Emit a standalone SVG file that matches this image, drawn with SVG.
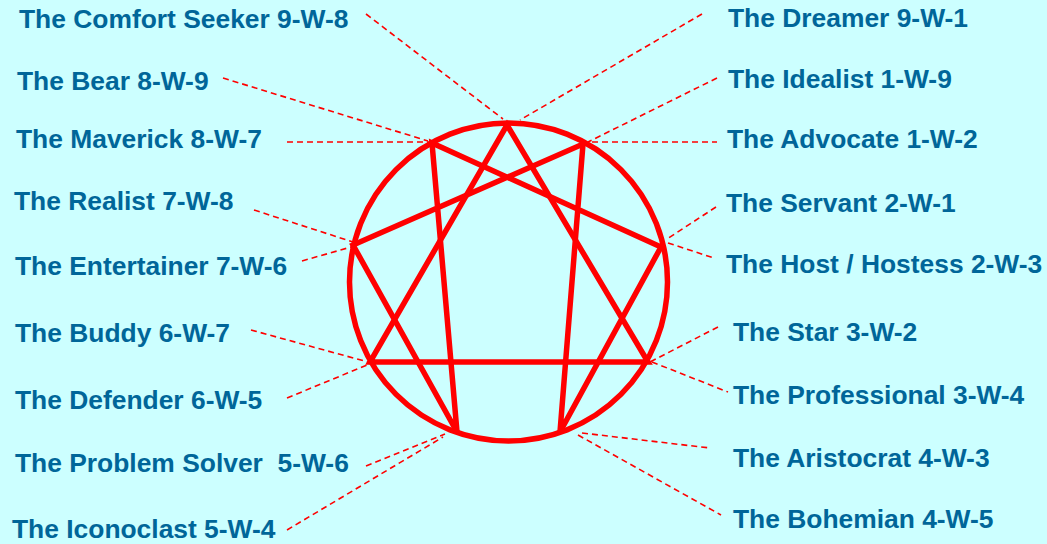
<svg xmlns="http://www.w3.org/2000/svg" width="1047" height="544" viewBox="0 0 1047 544">
<style>
.lbl{font-family:"Liberation Sans",Arial,sans-serif;font-weight:bold;font-size:26.4px;fill:#006699;white-space:pre}
.dash{stroke:#FF0000;stroke-width:1.6;stroke-dasharray:6 4;fill:none}
.fig{stroke:#FF0000;stroke-width:5.5;fill:none;stroke-linejoin:miter;stroke-linecap:butt}
</style>
<rect x="0" y="0" width="1047" height="544" fill="#CCFFFF"/>
<g id="connectors">
<line class="dash" x1="366" y1="14" x2="503" y2="119"/>
<line class="dash" x1="702" y1="14" x2="520" y2="120"/>
<line class="dash" x1="223" y1="78" x2="428" y2="141"/>
<line class="dash" x1="717" y1="78" x2="588" y2="142"/>
<line class="dash" x1="287" y1="142" x2="430" y2="142"/>
<line class="dash" x1="592" y1="142" x2="717" y2="142"/>
<line class="dash" x1="254" y1="210" x2="353" y2="242"/>
<line class="dash" x1="302" y1="261" x2="358" y2="245"/>
<line class="dash" x1="716" y1="207" x2="667" y2="239"/>
<line class="dash" x1="668" y1="243" x2="714" y2="258"/>
<line class="dash" x1="251" y1="330" x2="368" y2="362"/>
<line class="dash" x1="287" y1="398" x2="367" y2="365"/>
<line class="dash" x1="718" y1="327" x2="650" y2="362"/>
<line class="dash" x1="652" y1="362" x2="728" y2="392"/>
<line class="dash" x1="366" y1="466" x2="445" y2="434"/>
<line class="dash" x1="287" y1="530" x2="443" y2="437"/>
<line class="dash" x1="582" y1="433" x2="710" y2="448"/>
<line class="dash" x1="578" y1="435" x2="721" y2="515"/>
</g>
<g id="enneagram">
<circle class="fig" cx="508.5" cy="282" r="159"/>
<polygon class="fig" points="507,125 648,362 370,362"/>
<polygon class="fig" points="583,144 560,432 661,247 432,143 457,432 353,245"/>
</g>
<g id="label-comfort-seeker"><text class="lbl" x="19" y="28">The Comfort Seeker 9-W-8</text></g>
<g id="label-bear"><text class="lbl" x="17" y="90">The Bear 8-W-9</text></g>
<g id="label-maverick"><text class="lbl" x="16" y="148">The Maverick 8-W-7</text></g>
<g id="label-realist"><text class="lbl" x="14" y="210">The Realist 7-W-8</text></g>
<g id="label-entertainer"><text class="lbl" x="15" y="275">The Entertainer 7-W-6</text></g>
<g id="label-buddy"><text class="lbl" x="15" y="342">The Buddy 6-W-7</text></g>
<g id="label-defender"><text class="lbl" x="15" y="409">The Defender 6-W-5</text></g>
<g id="label-problem-solver"><text class="lbl" x="15" y="472" xml:space="preserve">The Problem Solver  5-W-6</text></g>
<g id="label-iconoclast"><text class="lbl" x="12" y="538">The Iconoclast 5-W-4</text></g>
<g id="label-dreamer"><text class="lbl" x="728" y="27">The Dreamer 9-W-1</text></g>
<g id="label-idealist"><text class="lbl" x="728" y="88">The Idealist 1-W-9</text></g>
<g id="label-advocate"><text class="lbl" x="727" y="148">The Advocate 1-W-2</text></g>
<g id="label-servant"><text class="lbl" x="726" y="212">The Servant 2-W-1</text></g>
<g id="label-host"><text class="lbl" x="726" y="273">The Host / Hostess 2-W-3</text></g>
<g id="label-star"><text class="lbl" x="733" y="341">The Star 3-W-2</text></g>
<g id="label-professional"><text class="lbl" x="733" y="404">The Professional 3-W-4</text></g>
<g id="label-aristocrat"><text class="lbl" x="733" y="467">The Aristocrat 4-W-3</text></g>
<g id="label-bohemian"><text class="lbl" x="733" y="528">The Bohemian 4-W-5</text></g>
</svg>
